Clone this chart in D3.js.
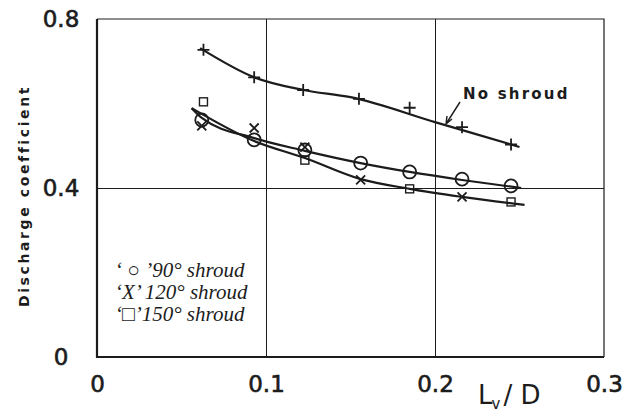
<!DOCTYPE html>
<html>
<head>
<meta charset="utf-8">
<script src="https://cdn.jsdelivr.net/npm/d3@7"></script>
<style>
  body { margin: 0; background: #fff; }
  svg { display: block; }
</style>
</head>
<body>
<svg id="chart"></svg>
<script>
const width = 624;
const height = 416;

const margin = {top: 19, right: 20, bottom: 59, left: 97};

const xTicks = [0, 0.1, 0.2, 0.3];
const yTicks = [0, 0.4, 0.8];

const noShroudX = [0.063, 0.093, 0.122, 0.155, 0.185, 0.216, 0.245];
const noShroudY = [0.727, 0.662, 0.632, 0.611, 0.590, 0.544, 0.503];

const shroud90X = [0.062, 0.093, 0.123, 0.156, 0.185, 0.216, 0.245];
const shroud90Y = [0.561, 0.514, 0.490, 0.459, 0.438, 0.421, 0.405];

const shroud120X = [0.062, 0.093, 0.123, 0.156, 0.216];
const shroud120Y = [0.547, 0.542, 0.497, 0.419, 0.379];

const shroud150X = [0.063, 0.123, 0.185, 0.245];
const shroud150Y = [0.604, 0.466, 0.398, 0.367];

// hand drawn fair curves
const noShroudFitX = [0.061, 0.093, 0.122, 0.150, 0.20, 0.250];
const noShroudFitY = [0.731, 0.662, 0.632, 0.615, 0.556, 0.497];

const upperFitX = [0.056, 0.062, 0.093, 0.123, 0.156, 0.185, 0.216, 0.251];
const upperFitY = [0.589, 0.566, 0.518, 0.488, 0.459, 0.438, 0.419, 0.400];

const lowerFitX = [0.056, 0.093, 0.123, 0.156, 0.185, 0.216, 0.253];
const lowerFitY = [0.589, 0.511, 0.471, 0.421, 0.398, 0.379, 0.360];

const legendLines = ["\u2018 \u25CB \u201990\u00B0 shroud", "\u2018X\u2019 120\u00B0 shroud", "\u2018\u25A1\u2019150\u00B0 shroud"];

const ink = "#1c1c1c";
const axisFont = "'DejaVu Sans', sans-serif";

const svg = d3.select("#chart")
    .attr("width", width)
    .attr("height", height);

const x = d3.scaleLinear()
    .domain([0, 0.3])
    .range([margin.left, width - margin.right]);

const y = d3.scaleLinear()
    .domain([0, 0.8])
    .range([height - margin.bottom, margin.top]);

const zip = (xs, ys) => xs.map((v, i) => [v, ys[i]]);

// grid lines
svg.append("g")
    .attr("transform", `translate(0,${y(0)})`)
    .call(d3.axisBottom(x).tickValues([0.1, 0.2]).tickSize(-(y(0) - y(0.8))).tickFormat(""))
    .call(g => g.select(".domain").remove())
    .call(g => g.selectAll("line").attr("stroke", ink).attr("stroke-width", 1));

svg.append("g")
    .attr("transform", `translate(${x(0)},0)`)
    .call(d3.axisLeft(y).tickValues([0.4]).tickSize(-(x(0.3) - x(0))).tickFormat(""))
    .call(g => g.select(".domain").remove())
    .call(g => g.selectAll("line").attr("stroke", ink).attr("stroke-width", 1));

// frame: thin top / right, heavy left / bottom
svg.append("path")
    .attr("d", `M${x(0)},${y(0.8)}H${x(0.3)}V${y(0)}`)
    .attr("fill", "none")
    .attr("stroke", ink)
    .attr("stroke-width", 1.2);

svg.append("path")
    .attr("d", `M${x(0)},${y(0.8)}V${y(0)}H${x(0.3)}`)
    .attr("fill", "none")
    .attr("stroke", ink)
    .attr("stroke-width", 2.2);

// tick labels
svg.append("g")
    .attr("transform", `translate(0,${y(0)})`)
    .call(d3.axisBottom(x).tickValues(xTicks).tickSize(0).tickPadding(19).tickFormat(d => d === 0 ? "0" : d3.format(".1f")(d)))
    .call(g => g.select(".domain").remove())
    .call(g => g.selectAll("text")
        .attr("font-family", axisFont)
        .attr("font-size", 23)
        .attr("stroke", ink)
        .attr("stroke-width", 0.6)
        .attr("fill", ink));

svg.append("g")
    .attr("transform", `translate(${x(0)},0)`)
    .call(d3.axisLeft(y).tickValues(yTicks).tickSize(0).tickFormat(d => d === 0 ? "0" : d3.format(".1f")(d)))
    .call(g => g.select(".domain").remove())
    .call(g => g.selectAll("text")
        .attr("x", -36)
        .attr("text-anchor", "middle")
        .attr("font-family", axisFont)
        .attr("font-size", 23)
        .attr("stroke", ink)
        .attr("stroke-width", 0.6)
        .attr("fill", ink));

// axis titles
svg.append("text")
    .attr("transform", `translate(29,${(y(0) + y(0.8)) / 2 + 8}) rotate(-90)`)
    .attr("text-anchor", "middle")
    .attr("font-family", axisFont)
    .attr("font-weight", "bold")
    .attr("font-size", 14)
    .attr("letter-spacing", 2.6)
    .attr("fill", ink)
    .text("Discharge coefficient");

const xTitle = svg.append("text")
    .attr("x", 478)
    .attr("y", 404)
    .attr("font-family", axisFont)
    .attr("font-size", 26)
    .attr("fill", ink);
xTitle.append("tspan").text("L");
xTitle.append("tspan").attr("font-size", 15).attr("dy", 5).attr("dx", -1).text("v");
xTitle.append("tspan").attr("dy", -5).attr("dx", 3).text("/ D");

// fitted curves
const line = d3.line()
    .x(d => x(d[0]))
    .y(d => y(d[1]))
    .curve(d3.curveMonotoneX);

[[noShroudFitX, noShroudFitY], [upperFitX, upperFitY], [lowerFitX, lowerFitY]].forEach(([xs, ys]) => {
    svg.append("path")
        .datum(zip(xs, ys))
        .attr("d", line)
        .attr("fill", "none")
        .attr("stroke", ink)
        .attr("stroke-width", 2.2);
});

// markers
const marks = svg.append("g")
    .attr("fill", "none")
    .attr("stroke", ink)
    .attr("stroke-width", 1.8);

marks.selectAll(".plus")
    .data(zip(noShroudX, noShroudY))
    .join("path")
    .attr("d", d => `M${x(d[0]) - 6},${y(d[1])}h12M${x(d[0])},${y(d[1]) - 6}v12`);

marks.selectAll(".circ")
    .data(zip(shroud90X, shroud90Y))
    .join("circle")
    .attr("cx", d => x(d[0]))
    .attr("cy", d => y(d[1]))
    .attr("r", 6.5);

marks.selectAll(".times")
    .data(zip(shroud120X, shroud120Y))
    .join("path")
    .attr("d", d => `M${x(d[0]) - 4.5},${y(d[1]) - 4.5}l9,9M${x(d[0]) + 4.5},${y(d[1]) - 4.5}l-9,9`);

marks.selectAll(".sq")
    .data(zip(shroud150X, shroud150Y))
    .join("rect")
    .attr("x", d => x(d[0]) - 4)
    .attr("y", d => y(d[1]) - 4)
    .attr("width", 8)
    .attr("height", 8)
    .attr("stroke-width", 1.4);

// annotation
svg.append("text")
    .attr("x", 463)
    .attr("y", 99)
    .attr("font-family", axisFont)
    .attr("font-weight", "bold")
    .attr("font-size", 15)
    .attr("letter-spacing", 2.2)
    .attr("fill", ink)
    .text("No shroud");

svg.append("path")
    .attr("d", "M460,102L446,124M446,124l1,-8M446,124l6,-5")
    .attr("fill", "none")
    .attr("stroke", ink)
    .attr("stroke-width", 1.4);

// legend
svg.append("g")
    .selectAll("text")
    .data(legendLines)
    .join("text")
    .attr("x", 115)
    .attr("y", (d, i) => 277 + i * 22)
    .attr("font-family", "'Liberation Serif', serif")
    .attr("font-style", "italic")
    .attr("font-size", 21)
    .attr("fill", ink)
    .text(d => d);
</script>
</body>
</html>
